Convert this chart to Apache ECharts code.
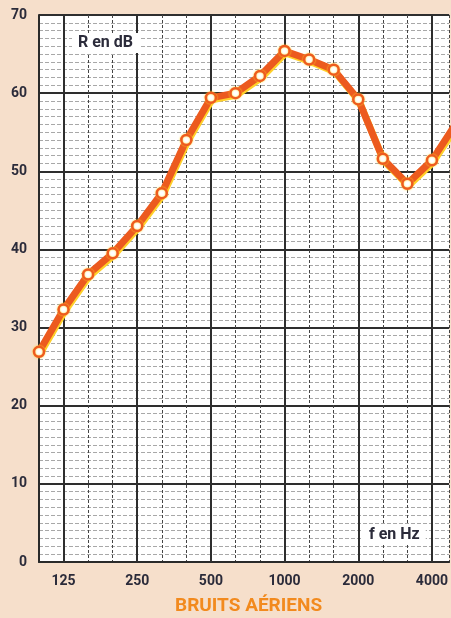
<!DOCTYPE html>
<html>
<head>
<meta charset="utf-8">
<script src="https://cdn.jsdelivr.net/npm/echarts@6/dist/echarts.min.js"></script>
<style>
html,body{margin:0;padding:0;background:#f6dfcb;}
#c{width:451px;height:618px;}
</style>
</head>
<body>
<div id="c"></div>
<script>
// Third-octave bands (Hz), from 100 Hz
const bands = ['100','125','160','200','250','315','400','500','630','800','1000','1250','1600','2000','2500','3150','4000','5000'];
// Sound reduction index R (dB) per band
const rValues = [26.9, 32.3, 36.8, 39.5, 43.0, 47.2, 54.0, 59.4, 60.0, 62.2, 65.4, 64.3, 63.0, 59.2, 51.6, 48.4, 51.4, 56.2];
// Labelled octave ticks
const xTickLabels = ['125','250','500','1000','2000','4000'];
const yTicks = [0,10,20,30,40,50,60,70];

const labelFont = "'Roboto','DejaVu Sans',sans-serif";
const octaveIdx = xTickLabels.map(l => bands.indexOf(l));

const chart = echarts.init(document.getElementById('c'));
chart.setOption({
  backgroundColor: '#f6dfcb',
  animation: false,
  grid: {left: 39, right: 0, top: 15, bottom: 56, show: true, backgroundColor: '#ffffff', borderWidth: 0},
  title: [
    {text: 'R en dB', left: 72, top: 33, padding: [2, 6], backgroundColor: '#ffffff',
     textStyle: {fontFamily: labelFont, fontWeight: 'bold', fontSize: 16, color: '#2b2b3a'}},
    {text: 'f en Hz', left: 363, top: 525, padding: [2, 6], backgroundColor: '#ffffff',
     textStyle: {fontFamily: labelFont, fontWeight: 'bold', fontSize: 16, color: '#2b2b3a'}},
    {text: 'BRUITS AÉRIENS', left: 175, top: 597, padding: 0,
     textStyle: {fontFamily: labelFont, fontWeight: 'bold', fontSize: 19, color: '#f28a1e'}}
  ],
  xAxis: {
    type: 'value', min: 0, max: 16.7, interval: 1,
    axisLine: {show: true, lineStyle: {color: '#2a2a2a', width: 2}},
    axisTick: {show: false},
    axisLabel: {
      showMaxLabel: false, margin: 12,
      fontFamily: labelFont, fontWeight: 'bold', fontSize: 14, color: '#2b2b3a',
      formatter: v => { const b = bands[Math.round(v)]; return xTickLabels.includes(b) ? b : ''; }
    },
    splitLine: {show: true, lineStyle: {color: '#444', width: 1, type: [3, 2]}}
  },
  yAxis: {
    type: 'value', min: 0, max: 70, interval: 10,
    axisLine: {show: true, lineStyle: {color: '#2a2a2a', width: 2}},
    axisTick: {show: false},
    axisLabel: {margin: 12, fontFamily: labelFont, fontWeight: 'bold', fontSize: 14, color: '#2b2b3a',
      formatter: v => yTicks.includes(v) ? String(v) : ''},
    splitLine: {show: true, lineStyle: {color: '#2e2e2e', width: 2}},
    minorTick: {show: false, splitNumber: 10},
    minorSplitLine: {show: true, lineStyle: {color: '#a8a8a8', width: 1, type: [4, 2]}}
  },
  series: [{
    type: 'line',
    data: rValues.map((v, i) => [i, v]),
    clip: true,
    symbol: 'circle', symbolSize: 10,
    itemStyle: {color: '#ffffff', borderColor: '#ee5b20', borderWidth: 2.5, shadowColor: '#ffd02a', shadowBlur: 2},
    lineStyle: {color: '#ec5a1f', width: 7, shadowColor: '#ffd02a', shadowBlur: 0, shadowOffsetX: 1, shadowOffsetY: 2},
    z: 5,
    markLine: {
      silent: true, symbol: 'none', label: {show: false},
      lineStyle: {color: '#2e2e2e', width: 2, type: 'solid'},
      data: octaveIdx.map(i => ({xAxis: i}))
    }
  }]
});
</script>
</body>
</html>
